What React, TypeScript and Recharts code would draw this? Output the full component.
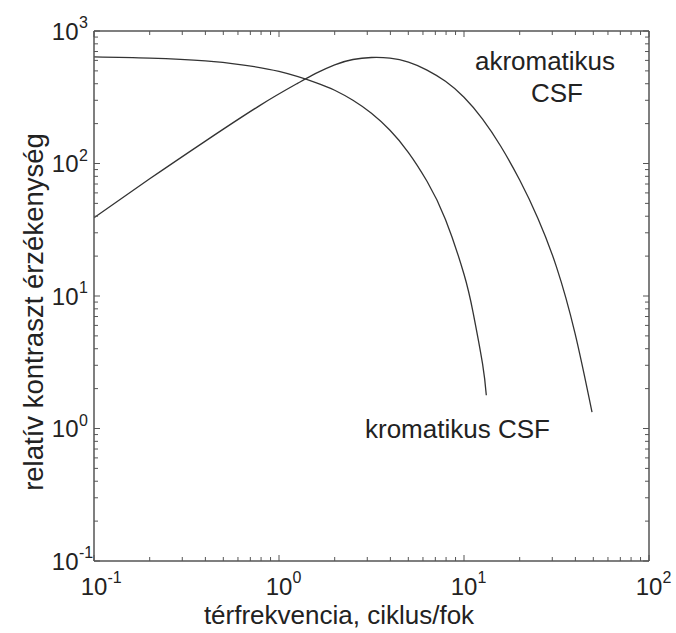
import { LineChart, Line, XAxis, YAxis, Customized } from 'recharts'

// kromatikus CSF (cycles/deg, relative sensitivity)
const chromFreq = [0.1, 0.2, 0.4, 0.63, 1.0, 1.58, 2.0, 2.51, 3.16, 3.98, 5.01, 6.31, 7.94, 10, 11.2, 12.6, 13.2]
const chromSens = [637, 624, 596, 556, 495, 408, 357, 300, 239, 178, 121, 73.4, 37.8, 14.6, 7.5, 3.07, 1.78]

// akromatikus CSF
const achromFreq = [0.1, 0.2, 0.4, 0.79, 1.26, 1.58, 2.0, 2.51, 3.16, 3.98, 5.01, 6.31, 7.94, 10, 12.6, 15.8, 20, 25.1, 31.6, 39.8, 49.2]
const achromSens = [38.9, 76.6, 147.6, 274.8, 402.7, 478.6, 555.9, 609.5, 631, 623.7, 582.1, 507, 416.9, 316.2, 216.3, 134.9, 75.0, 38.5, 16.6, 5.25, 1.33]

const xExponents = [-1, 0, 1, 2]
const yExponents = [-1, 0, 1, 2, 3]

const FONT = '"Liberation Sans", Arial, Helvetica, sans-serif'
const AXIS = '#555'
const INK = '#222'

const chromData = chromFreq.map((f, i) => ({ f, s: chromSens[i] }))
const achromData = achromFreq.map((f, i) => ({ f, s: achromSens[i] }))

// major + minor tick values for a log axis
function logTicks(exps: number[]) {
  const out: number[] = []
  for (let k = 0; k < exps.length; k++) {
    const base = Math.pow(10, exps[k])
    if (k === exps.length - 1) { out.push(base); break }
    for (let m = 1; m <= 9; m++) out.push(+(m * base).toPrecision(6))
  }
  return out
}
const xTicks = logTicks(xExponents)
const yTicks = logTicks(yExponents)

function exponentOf(v: number) {
  const e = Math.round(Math.log10(v))
  return Math.abs(Math.log10(v) - e) < 1e-6 ? e : null
}

function Tick(props: any) {
  const { x, y, payload, side } = props
  const e = exponentOf(payload.value)
  const len = e === null ? 4 : 6
  let line
  if (side === 'bottom') line = <line x1={x} x2={x} y1={y} y2={y - len} />
  else if (side === 'top') line = <line x1={x} x2={x} y1={y} y2={y + len} />
  else if (side === 'left') line = <line x1={x} x2={x + len} y1={y} y2={y} />
  else line = <line x1={x} x2={x - len} y1={y} y2={y} />

  let label = null
  if (e !== null && side === 'bottom') {
    label = (
      <g fill={INK} fontFamily={FONT}>
        <text x={x} y={y + 34} fontSize={24} textAnchor="middle">10</text>
        <text x={x + 13.5} y={y + 22} fontSize={16}>{e}</text>
      </g>
    )
  }
  if (e !== null && side === 'left') {
    label = (
      <g fill={INK} fontFamily={FONT}>
        <text x={x - 15.5} y={y + 8.5} fontSize={24} textAnchor="end">10</text>
        <text x={x - 15} y={y - 3} fontSize={16}>{e}</text>
      </g>
    )
  }
  return (
    <g>
      <g stroke={AXIS} strokeWidth={1}>{line}</g>
      {label}
    </g>
  )
}

function Annotations() {
  return (
    <g fill={INK} fontFamily={FONT}>
      <text x={545} y={70} fontSize={26} textAnchor="middle">akromatikus</text>
      <text x={557} y={102} fontSize={26} textAnchor="middle">CSF</text>
      <text x={365} y={438} fontSize={26}>kromatikus CSF</text>
      <text x={339} y={624} fontSize={26} textAnchor="middle">térfrekvencia, ciklus/fok</text>
      <text x={43} y={312} fontSize={27.5} textAnchor="middle" transform="rotate(-90 43 312)">
        relatív kontraszt érzékenység
      </text>
    </g>
  )
}

export default function App() {
  return (
    <div style={{ position: 'absolute', left: 0, top: 0, background: '#fff' }}>
      <LineChart width={676} height={633} margin={{ top: 0, right: 0, bottom: 0, left: 0 }}>
        <XAxis
          xAxisId="b" dataKey="f" type="number" scale="log" domain={[0.1, 100]}
          ticks={xTicks} interval={0} height={72} tickSize={0} tickMargin={0}
          tickLine={false} axisLine={{ stroke: AXIS, strokeWidth: 1.5 }}
          tick={(p: any) => <Tick {...p} side="bottom" />} allowDataOverflow
        />
        <XAxis
          xAxisId="t" orientation="top" dataKey="f" type="number" scale="log" domain={[0.1, 100]}
          ticks={xTicks} interval={0} height={31} tickSize={0} tickMargin={0}
          tickLine={false} axisLine={{ stroke: AXIS, strokeWidth: 1.5 }}
          tick={(p: any) => <Tick {...p} side="top" />} allowDataOverflow
        />
        <YAxis
          yAxisId="l" type="number" scale="log" domain={[0.1, 1000]}
          ticks={yTicks} interval={0} width={94} tickSize={0} tickMargin={0}
          tickLine={false} axisLine={{ stroke: AXIS, strokeWidth: 1.5 }}
          tick={(p: any) => <Tick {...p} side="left" />} allowDataOverflow
        />
        <YAxis
          yAxisId="r" orientation="right" type="number" scale="log" domain={[0.1, 1000]}
          ticks={yTicks} interval={0} width={27} tickSize={0} tickMargin={0}
          tickLine={false} axisLine={{ stroke: AXIS, strokeWidth: 1.5 }}
          tick={(p: any) => <Tick {...p} side="right" />} allowDataOverflow
        />
        <Line
          xAxisId="b" yAxisId="l" data={chromData} dataKey="s" type="natural"
          stroke="#333" strokeWidth={1.3} dot={false} isAnimationActive={false}
        />
        <Line
          xAxisId="b" yAxisId="l" data={achromData} dataKey="s" type="natural"
          stroke="#333" strokeWidth={1.3} dot={false} isAnimationActive={false}
        />
        <Customized component={Annotations} />
      </LineChart>
    </div>
  )
}
